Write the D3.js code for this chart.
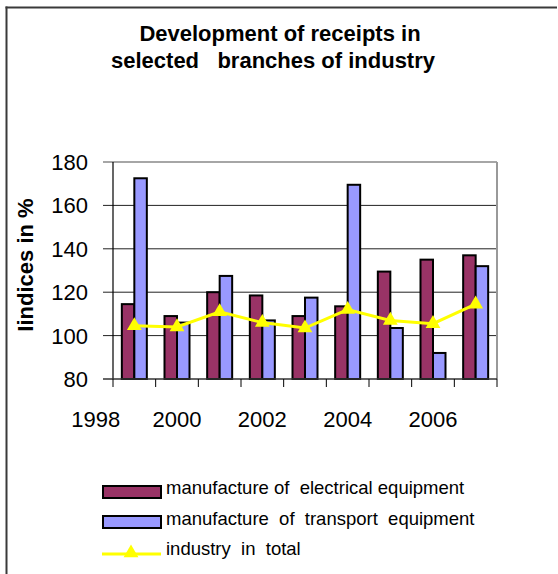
<!DOCTYPE html>
<html>
<head>
<meta charset="utf-8">
<script src="https://cdn.jsdelivr.net/npm/d3@7"></script>
<style>
  html, body { margin: 0; padding: 0; background: #fff; overflow: hidden; }
  svg { display: block; }
  text { font-family: "Liberation Sans", Arial, sans-serif; }
</style>
</head>
<body>
<div id="chart"></div>
<script>
// chart data
var years = [1999, 2000, 2001, 2002, 2003, 2004, 2005, 2006, 2007];
var electrical = [114.5, 109, 120, 118.5, 109, 113.5, 129.5, 135, 137];
var transport = [172.5, 106, 127.5, 107, 117.5, 169.5, 103.5, 92, 132];
var industryTotal = [104.5, 104, 111, 106, 103.5, 112, 107, 105.5, 114.5];
var yTicks = [80, 100, 120, 140, 160, 180];
var xLabels = [1998, 2000, 2002, 2004, 2006];
var seriesNames = ["manufacture of  electrical equipment", "manufacture  of  transport  equipment", "industry  in  total"];

var width = 558, height = 574;
var plot = {left: 113, right: 497, top: 162, bottom: 379};

var svg = d3.select("#chart").append("svg")
    .attr("width", width)
    .attr("height", height);

// outer frame: only its left and top edges are inside the picture
svg.append("line")
    .attr("x1", 6.5).attr("x2", 6.5).attr("y1", 6.5).attr("y2", height)
    .attr("stroke", "#3a3a3a").attr("stroke-width", 2);
svg.append("line")
    .attr("x1", 5.5).attr("x2", width - 1).attr("y1", 7.5).attr("y2", 7.5)
    .attr("stroke", "#3a3a3a").attr("stroke-width", 2);

// title
var title = svg.append("text")
    .attr("text-anchor", "middle")
    .style("font-weight", "bold")
    .style("font-size", "22px")
    .attr("xml:space", "preserve");
title.append("tspan").attr("x", 280).attr("y", 41).text("Development of receipts in");
title.append("tspan").attr("x", 273).attr("y", 67.5).text("selected   branches of industry");

// scales
var x = d3.scaleBand().domain(years).range([plot.left, plot.right]).padding(0);
var xYear = d3.scaleLinear().domain([1998.5, 2007.5]).range([plot.left, plot.right]);
var y = d3.scaleLinear().domain([80, 180]).range([plot.bottom, plot.top]);
var groupW = 25;
var sub = d3.scaleBand().domain([0, 1])
    .range([(x.bandwidth() - groupW) / 2, (x.bandwidth() + groupW) / 2]);

// gridlines + y ticks
svg.append("g").selectAll("line")
    .data(yTicks.slice(1))
    .enter().append("line")
    .attr("x1", plot.left - 10).attr("x2", plot.right)
    .attr("y1", function(d){ return y(d); })
    .attr("y2", function(d){ return y(d); })
    .attr("stroke", function(d){ return d == 180 ? "#888" : "#222"; })
    .attr("stroke-width", function(d){ return d == 180 ? 1.5 : 1; });

// right plot border
svg.append("line")
    .attr("x1", plot.right).attr("x2", plot.right)
    .attr("y1", plot.top).attr("y2", plot.bottom)
    .attr("stroke", "#999").attr("stroke-width", 2);

// y tick labels
svg.append("g").selectAll("text")
    .data(yTicks)
    .enter().append("text")
    .attr("x", 88)
    .attr("y", function(d){ return y(d); })
    .attr("dy", "0.36em")
    .attr("text-anchor", "end")
    .style("font-size", "22px")
    .text(function(d){ return d; });

// y axis title
svg.append("text")
    .attr("transform", "translate(33,265) rotate(-90)")
    .attr("text-anchor", "middle")
    .style("font-weight", "bold")
    .style("font-size", "22px")
    .text("Iindices in %");

// bars
var rows = years.map(function(yr, i){ return {year: yr, vals: [electrical[i], transport[i]]}; });
var barColors = ["#993366", "#9999ff"];
svg.append("g").selectAll("g")
    .data(rows)
    .enter().append("g")
    .attr("transform", function(d){ return "translate(" + x(d.year) + ",0)"; })
    .selectAll("rect")
    .data(function(d){ return d.vals; })
    .enter().append("rect")
    .attr("x", function(d, i){ return sub(i); })
    .attr("width", sub.bandwidth())
    .attr("y", function(d){ return y(d); })
    .attr("height", function(d){ return y(80) - y(d); })
    .attr("fill", function(d, i){ return barColors[i]; })
    .attr("stroke", "#000")
    .attr("stroke-width", 2);

// axes lines
svg.append("line")
    .attr("x1", plot.left).attr("x2", plot.left)
    .attr("y1", plot.top).attr("y2", plot.bottom)
    .attr("stroke", "#000").attr("stroke-width", 1.2);
svg.append("line")
    .attr("x1", plot.left - 10).attr("x2", plot.right)
    .attr("y1", plot.bottom).attr("y2", plot.bottom)
    .attr("stroke", "#333").attr("stroke-width", 1.5);

// x ticks
var tickPos = years.map(function(yr){ return x(yr); }).concat([plot.right]);
svg.append("g").selectAll("line")
    .data(tickPos)
    .enter().append("line")
    .attr("x1", function(d){ return d; }).attr("x2", function(d){ return d; })
    .attr("y1", plot.bottom).attr("y2", plot.bottom + 8)
    .attr("stroke", "#000").attr("stroke-width", 1);

// x labels
svg.append("g").selectAll("text")
    .data(xLabels)
    .enter().append("text")
    .attr("x", function(d){ return d == 1998 ? xYear(d) + 4 : xYear(d); })
    .attr("y", 427)
    .attr("text-anchor", "middle")
    .style("font-size", "22px")
    .text(function(d){ return d; });

// industry in total line
var line = d3.line()
    .x(function(d, i){ return x(years[i]) + x.bandwidth() / 2; })
    .y(function(d){ return y(d); });
svg.append("path")
    .datum(industryTotal)
    .attr("d", line)
    .attr("fill", "none")
    .attr("stroke", "#ffff00")
    .attr("stroke-width", 3);

var tri = d3.symbol().type(d3.symbolTriangle).size(95);
svg.append("g").selectAll("path")
    .data(industryTotal)
    .enter().append("path")
    .attr("d", tri)
    .attr("transform", function(d, i){
        return "translate(" + (x(years[i]) + x.bandwidth() / 2) + "," + y(d) + ")";
    })
    .attr("fill", "#ffff00");

// legend
var legend = svg.append("g");
[0, 1].forEach(function(i){
    legend.append("rect")
        .attr("x", 103).attr("y", 486 + i * 30)
        .attr("width", 58).attr("height", 12)
        .attr("fill", barColors[i])
        .attr("stroke", "#000").attr("stroke-width", 2);
});
legend.append("line")
    .attr("x1", 102).attr("x2", 161)
    .attr("y1", 554).attr("y2", 554)
    .attr("stroke", "#ffff00").attr("stroke-width", 3);
legend.append("path")
    .attr("d", tri)
    .attr("transform", "translate(131,553)")
    .attr("fill", "#ffff00");
legend.selectAll("text.lg")
    .data(seriesNames)
    .enter().append("text")
    .attr("class", "lg")
    .attr("x", 166)
    .attr("y", function(d, i){ return 494 + i * 30.5; })
    .attr("xml:space", "preserve")
    .style("font-size", "18.5px")
    .text(function(d){ return d; });
</script>
</body>
</html>
